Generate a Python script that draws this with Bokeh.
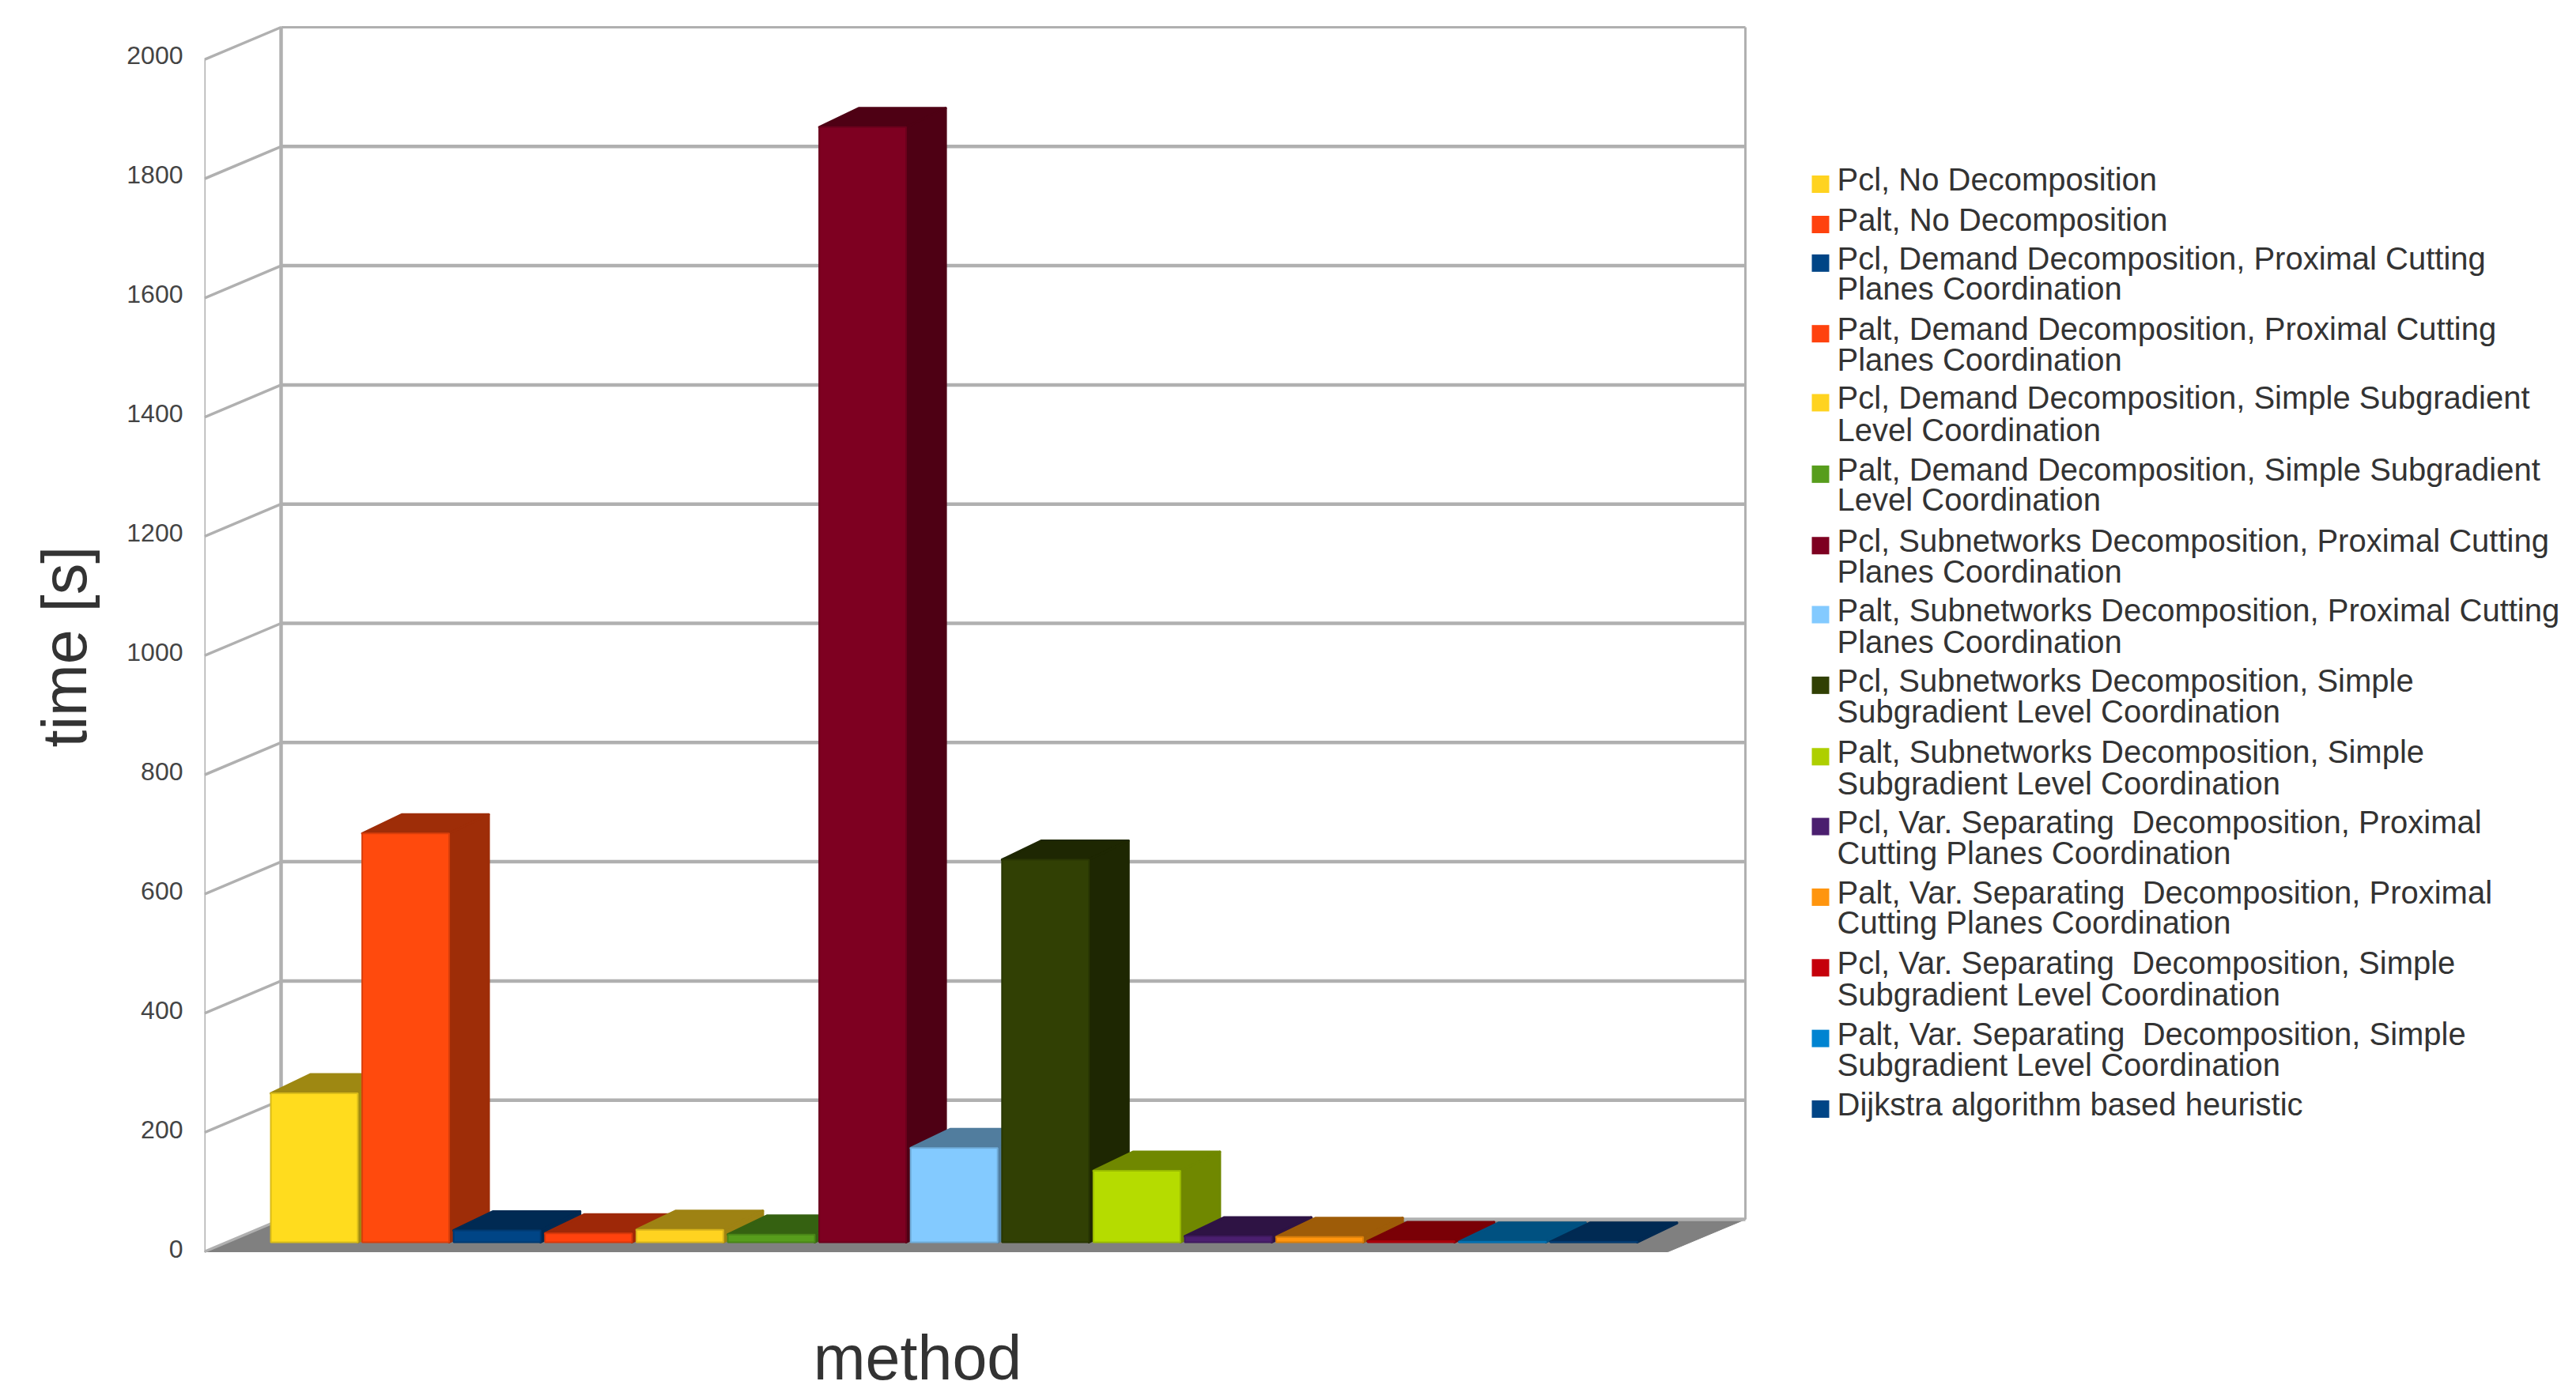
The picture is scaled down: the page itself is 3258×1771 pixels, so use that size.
from bokeh.plotting import figure
from bokeh.embed import file_html
from bokeh.resources import INLINE
from bokeh.models import FixedTicker, Title, LinearAxis, Range1d
from bokeh.core.properties import value as V

methods = [
    "Pcl, No Decomposition",
    "Palt, No Decomposition",
    "Pcl, Demand Decomposition, Proximal Cutting\nPlanes Coordination",
    "Palt, Demand Decomposition, Proximal Cutting\nPlanes Coordination",
    "Pcl, Demand Decomposition, Simple Subgradient\nLevel Coordination",
    "Palt, Demand Decomposition, Simple Subgradient\nLevel Coordination",
    "Pcl, Subnetworks Decomposition, Proximal Cutting\nPlanes Coordination",
    "Palt, Subnetworks Decomposition, Proximal Cutting\nPlanes Coordination",
    "Pcl, Subnetworks Decomposition, Simple\nSubgradient Level Coordination",
    "Palt, Subnetworks Decomposition, Simple\nSubgradient Level Coordination",
    "Pcl, Var. Separating\u00a0 Decomposition, Proximal\nCutting Planes Coordination",
    "Palt, Var. Separating\u00a0 Decomposition, Proximal\nCutting Planes Coordination",
    "Pcl, Var. Separating\u00a0 Decomposition, Simple\nSubgradient Level Coordination",
    "Palt, Var. Separating\u00a0 Decomposition, Simple\nSubgradient Level Coordination",
    "Dijkstra algorithm based heuristic",
]
times = [250, 686, 20, 15, 21, 13, 1871, 158, 642, 120, 10, 9, 2, 1, 1]
front_colors = ["#FFDC1E", "#FF4A0D", "#004586", "#FF420E", "#FFD320", "#579D1C", "#7E0021", "#83CAFF",
                "#314004", "#B5DC00", "#4B1F6F", "#FF950E", "#C5000B", "#0084D1", "#004586"]
legend_colors = ["#FFD320", "#FF420E", "#004586", "#FF420E", "#FFD320", "#579D1C", "#7E0021", "#83CAFF",
                 "#314004", "#AECF00", "#4B1F6F", "#FF950E", "#C5000B", "#0084D1", "#004586"]
y_ticks = [0, 200, 400, 600, 800, 1000, 1200, 1400, 1600, 1800, 2000]

# layout, in picture pixels
W, H = 3250, 1768
AX_L, AX_B = 258, 1583          # front-left corner of the floor
PX_PER_S = 0.754
BAR0, BAR_PITCH, BAR_W = 342, 115.6, 110
BASE_PX = 1571                  # picture y of the front-bottom of the bars
DX, DY = 50, 24                 # depth of a bar
WALL_DX, WALL_DY = 97, 41       # depth of the chart box
RIGHT_BACK = 2207
RIGHT_FRONT = 2109
LABEL_0, LABEL_PX = 1579, 0.755 # where the axis labels of the picture sit

def X(px):
    return (px - BAR0) / BAR_PITCH
def Y(py):
    return (AX_B - py) / PX_PER_S
def dark(c, f=0.62):
    r, g, b = (int(c[i:i + 2], 16) for i in (1, 3, 5))
    return "#%02x%02x%02x" % (int(r * f), int(g * f), int(b * f))

p = figure(width=W, height=H, output_backend="svg", toolbar_location=None,
           x_range=(X(AX_L), X(W)), y_range=(Y(H), Y(0)),
           x_axis_location=None, y_axis_location=None,
           min_border_left=AX_L, min_border_right=0, min_border_top=0,
           min_border_bottom=0, outline_line_color=None,
           background_fill_color="white", border_fill_color="white")
p.grid.visible = False
p.extra_y_ranges = {"labels": Range1d((LABEL_0 - H) / LABEL_PX, LABEL_0 / LABEL_PX)}
ax = LinearAxis(y_range_name="labels", ticker=FixedTicker(ticks=y_ticks))
ax.axis_line_color = None
ax.major_tick_line_color = None
ax.minor_tick_line_color = None
ax.major_label_standoff = 21
ax.major_label_text_font = "Liberation Sans"
ax.major_label_text_font_size = "32px"
ax.major_label_text_color = "#444444"
p.add_layout(ax, "left")

GRID = "#b0b0b0"
wall = WALL_DY / PX_PER_S
xl, xb, xr, xf = X(AX_L), X(AX_L + WALL_DX), X(RIGHT_BACK), X(RIGHT_FRONT)

# floor
p.patch([xl, xb, xr, xf], [0, wall, wall, 0], fill_color="#808080", line_color="#808080", line_width=1)
# grid on the walls
for t in y_ticks:
    w = 3 if t == 2000 else 4.5
    p.line([xb, xr], [t + wall, t + wall], line_color=GRID, line_width=w)
    p.line([xl, xb], [t, t + wall], line_color=GRID, line_width=3.5)
p.line([xl, xl], [0, 2000], line_color=GRID, line_width=3)
p.line([xb, xb], [wall, 2000 + wall], line_color=GRID, line_width=4.5)
p.line([xr, xr], [wall, 2000 + wall], line_color=GRID, line_width=3)

# bars, left to right
base = Y(BASE_PX)
dx = DX / BAR_PITCH
dy = DY / PX_PER_S
for i, (t, c) in enumerate(zip(times, front_colors)):
    l, r, b, top = X(BAR0 + BAR_PITCH * i), X(BAR0 + BAR_PITCH * i + BAR_W), base, base + t
    d = dark(c)
    p.patch([l, l + dx, r + dx, r], [top, top + dy, top + dy, top], fill_color=d, line_color=d,
            line_width=3, line_join="round")
    p.patch([r, r + dx, r + dx, r], [b, b + dy, top + dy, top], fill_color=d, line_color=d,
            line_width=3, line_join="round")
    p.quad(left=l, right=r, bottom=b, top=top, fill_color=c, line_color=dark(c, 0.85), line_width=2)

# legend
line_y = [110, 134.5, 158, 176.5, 201, 219.5, 243, 262.5, 286.5, 305, 330, 348.5, 372, 391.5, 415, 434,
          458.5, 477.5, 501, 520, 544, 562.5, 587, 606, 630, 649, 673]
k = 0
for m, c in zip(methods, legend_colors):
    parts = m.split("\n")
    y0 = line_y[k] * 2.078
    p.rect([X(2302)], [Y(y0 + 4)], width=22 / BAR_PITCH, height=22 / PX_PER_S, fill_color=c, line_color=None)
    for part in parts:
        yy = line_y[k] * 2.078 - 2
        p.text([X(2323)], [Y(yy)], text=[part], text_font=V("Liberation Sans"), text_font_size="40px",
               text_color="#333333", text_baseline="middle", text_align="left")
        k += 1

p.text([X(1160)], [Y(1717)], text=["method"], text_font=V("Liberation Sans"), text_font_size="79px",
       text_color="#333333", text_baseline="middle", text_align="center")
p.add_layout(Title(text="time [s]", text_font="Liberation Sans", text_font_size="79px", text_font_style="normal",
                   text_color="#333333", align="left", offset=H - 945, standoff=60, vertical_align="top"), "left")

open("out.html", "w").write(file_html(p, INLINE))
